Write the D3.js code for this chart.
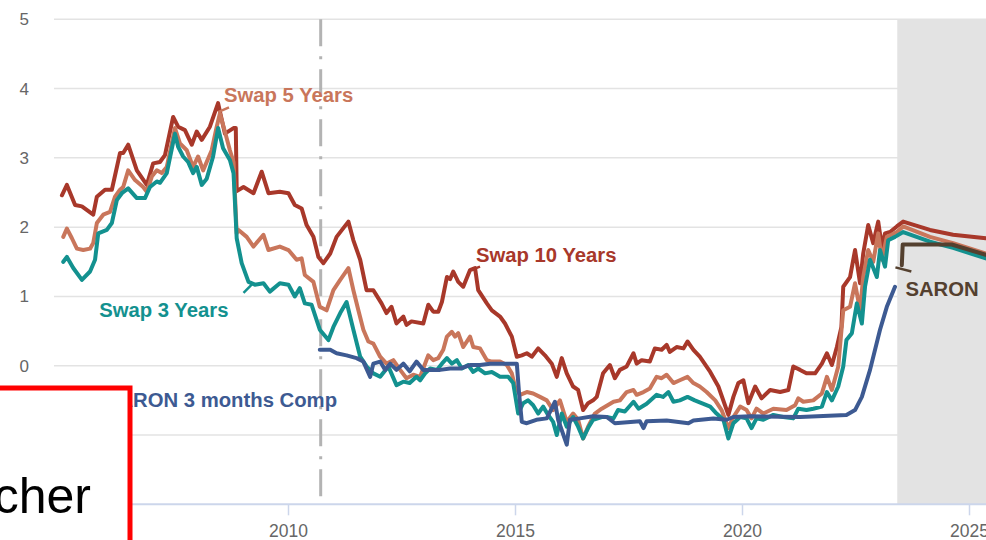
<!DOCTYPE html>
<html>
<head>
<meta charset="utf-8">
<style>
  body { margin: 0; background: #fff; }
  svg { display: block; font-family: "Liberation Sans", Arial, sans-serif; }
</style>
</head>
<body>
<script src="https://d3js.org/d3.v7.min.js"></script>
<script>
  // rates in percent, dates as decimal years
  const swap10 = [[2005.02,2.46],[2005.13,2.61],[2005.31,2.32],[2005.46,2.30],[2005.71,2.18],[2005.79,2.44],[2005.97,2.54],[2006.12,2.54],[2006.30,3.07],[2006.37,3.07],[2006.48,3.19],[2006.67,2.82],[2006.89,2.61],[2007.03,2.92],[2007.18,2.94],[2007.29,3.04],[2007.47,3.59],[2007.58,3.45],[2007.73,3.40],[2007.88,3.19],[2007.99,3.38],[2008.10,3.26],[2008.28,3.45],[2008.46,3.79],[2008.61,3.35],[2008.80,3.43],[2008.85,3.43],[2008.87,2.52],[2009.02,2.58],[2009.24,2.49],[2009.42,2.80],[2009.57,2.49],[2009.82,2.51],[2010.01,2.49],[2010.15,2.32],[2010.30,2.27],[2010.41,2.03],[2010.56,1.86],[2010.67,1.57],[2010.78,1.48],[2010.93,1.62],[2011.07,1.86],[2011.33,2.08],[2011.44,1.81],[2011.59,1.53],[2011.73,1.09],[2011.88,1.09],[2012.06,0.90],[2012.17,0.76],[2012.28,0.85],[2012.39,0.61],[2012.54,0.71],[2012.61,0.59],[2012.72,0.64],[2012.98,0.61],[2013.09,0.88],[2013.20,0.78],[2013.31,0.78],[2013.39,0.92],[2013.50,1.28],[2013.57,1.25],[2013.64,1.36],[2013.75,1.21],[2013.86,1.14],[2014.01,1.38],[2014.12,1.41],[2014.19,1.09],[2014.38,0.90],[2014.49,0.80],[2014.67,0.71],[2014.78,0.61],[2014.93,0.42],[2015.04,0.13],[2015.15,0.15],[2015.26,0.18],[2015.37,0.13],[2015.51,0.25],[2015.66,0.15],[2015.81,0.03],[2015.92,-0.16],[2016.03,0.11],[2016.14,-0.11],[2016.28,-0.30],[2016.39,-0.35],[2016.50,-0.64],[2016.61,-0.54],[2016.72,-0.50],[2016.80,-0.45],[2016.94,-0.11],[2017.09,0.01],[2017.20,-0.18],[2017.31,-0.06],[2017.46,-0.01],[2017.61,0.18],[2017.68,0.03],[2017.79,0.08],[2017.97,0.06],[2018.08,0.25],[2018.23,0.23],[2018.34,0.30],[2018.41,0.20],[2018.56,0.27],[2018.71,0.25],[2018.80,0.35],[2018.93,0.23],[2019.07,0.13],[2019.30,-0.09],[2019.48,-0.30],[2019.70,-0.71],[2019.81,-0.45],[2019.92,-0.25],[2020.03,-0.21],[2020.14,-0.54],[2020.29,-0.30],[2020.43,-0.47],[2020.62,-0.35],[2020.84,-0.38],[2021.02,-0.35],[2021.13,-0.01],[2021.28,-0.06],[2021.42,-0.11],[2021.61,-0.11],[2021.76,0.03],[2021.87,0.18],[2021.98,0.01],[2022.09,0.27],[2022.19,0.56],[2022.23,1.14],[2022.38,1.28],[2022.49,1.67],[2022.60,1.19],[2022.67,1.62],[2022.78,2.03],[2022.89,1.77],[2023.00,2.08],[2023.08,1.72],[2023.15,1.91],[2023.26,1.93],[2023.41,2.01],[2023.55,2.08],[2024.14,1.96],[2024.65,1.89],[2025.37,1.84]];

  const swap5 = [[2005.05,1.86],[2005.13,1.98],[2005.24,1.84],[2005.35,1.69],[2005.49,1.67],[2005.64,1.69],[2005.71,1.77],[2005.79,2.06],[2005.93,2.18],[2006.08,2.22],[2006.19,2.44],[2006.30,2.54],[2006.37,2.58],[2006.48,2.82],[2006.63,2.68],[2006.81,2.58],[2006.89,2.51],[2007.00,2.73],[2007.11,2.82],[2007.22,2.78],[2007.33,2.87],[2007.51,3.43],[2007.62,3.21],[2007.77,3.11],[2007.91,2.87],[2008.02,3.02],[2008.13,2.82],[2008.32,3.11],[2008.43,3.45],[2008.50,3.64],[2008.61,3.38],[2008.72,3.11],[2008.80,2.94],[2008.87,1.91],[2008.91,1.96],[2009.09,1.86],[2009.24,1.72],[2009.46,1.89],[2009.57,1.67],[2009.82,1.72],[2010.01,1.67],[2010.19,1.53],[2010.30,1.55],[2010.37,1.31],[2010.56,1.21],[2010.70,0.85],[2010.85,0.80],[2011.00,1.09],[2011.15,1.24],[2011.33,1.41],[2011.44,1.09],[2011.55,0.80],[2011.66,0.52],[2011.77,0.35],[2011.88,0.32],[2012.03,0.13],[2012.17,0.03],[2012.32,0.08],[2012.47,-0.06],[2012.61,-0.18],[2012.76,-0.13],[2012.91,-0.16],[2013.09,0.15],[2013.20,0.08],[2013.31,0.11],[2013.42,0.23],[2013.50,0.42],[2013.61,0.49],[2013.68,0.42],[2013.75,0.47],[2013.86,0.27],[2014.01,0.42],[2014.08,0.27],[2014.23,0.25],[2014.38,0.08],[2014.49,0.06],[2014.67,0.06],[2014.82,0.01],[2014.93,-0.11],[2015.00,-0.30],[2015.11,-0.42],[2015.26,-0.38],[2015.40,-0.40],[2015.55,-0.45],[2015.70,-0.50],[2015.84,-0.64],[2015.99,-0.50],[2016.14,-0.81],[2016.28,-0.69],[2016.39,-0.78],[2016.50,-1.05],[2016.61,-0.88],[2016.76,-0.69],[2016.91,-0.62],[2017.17,-0.52],[2017.31,-0.50],[2017.46,-0.38],[2017.61,-0.35],[2017.68,-0.42],[2017.83,-0.38],[2017.97,-0.33],[2018.12,-0.16],[2018.23,-0.18],[2018.34,-0.13],[2018.49,-0.25],[2018.63,-0.21],[2018.80,-0.16],[2018.93,-0.25],[2019.07,-0.30],[2019.22,-0.38],[2019.41,-0.50],[2019.55,-0.64],[2019.70,-0.90],[2019.81,-0.74],[2019.96,-0.59],[2020.10,-0.64],[2020.21,-0.76],[2020.32,-0.62],[2020.47,-0.69],[2020.69,-0.62],[2020.98,-0.64],[2021.17,-0.57],[2021.24,-0.47],[2021.35,-0.52],[2021.57,-0.50],[2021.76,-0.40],[2021.87,-0.16],[2021.98,-0.35],[2022.12,-0.01],[2022.23,0.80],[2022.38,0.85],[2022.49,1.19],[2022.60,0.80],[2022.67,1.28],[2022.78,1.67],[2022.89,1.50],[2023.00,1.91],[2023.08,1.53],[2023.19,1.86],[2023.29,1.89],[2023.41,1.93],[2023.55,2.01],[2024.14,1.86],[2024.65,1.77],[2025.37,1.62]];

  const swap3 = [[2005.05,1.50],[2005.13,1.57],[2005.27,1.41],[2005.46,1.24],[2005.64,1.36],[2005.75,1.53],[2005.82,1.91],[2006.01,1.96],[2006.12,2.06],[2006.23,2.39],[2006.34,2.49],[2006.48,2.56],[2006.67,2.42],[2006.85,2.42],[2006.96,2.58],[2007.11,2.66],[2007.18,2.64],[2007.33,2.78],[2007.51,3.35],[2007.58,3.16],[2007.69,3.02],[2007.80,2.94],[2007.91,2.78],[2007.99,2.87],[2008.10,2.61],[2008.21,2.70],[2008.35,3.02],[2008.46,3.43],[2008.57,3.14],[2008.72,2.97],[2008.80,2.78],[2008.87,1.84],[2008.98,1.48],[2009.13,1.21],[2009.27,1.17],[2009.46,1.19],[2009.60,1.07],[2009.82,1.19],[2010.01,1.17],[2010.15,1.00],[2010.26,1.12],[2010.37,0.90],[2010.52,0.88],[2010.70,0.52],[2010.89,0.37],[2011.00,0.56],[2011.15,0.76],[2011.29,0.92],[2011.44,0.52],[2011.59,0.13],[2011.73,-0.01],[2011.88,-0.11],[2012.03,-0.16],[2012.21,-0.01],[2012.39,-0.28],[2012.54,-0.23],[2012.68,-0.25],[2012.83,-0.16],[2012.91,-0.21],[2013.02,-0.11],[2013.13,-0.04],[2013.28,-0.06],[2013.39,0.03],[2013.50,0.11],[2013.61,0.03],[2013.72,0.08],[2013.83,-0.04],[2013.97,0.01],[2014.08,-0.09],[2014.19,-0.04],[2014.34,-0.11],[2014.49,-0.09],[2014.67,-0.16],[2014.85,-0.16],[2014.96,-0.25],[2015.07,-0.69],[2015.18,-0.54],[2015.29,-0.50],[2015.40,-0.57],[2015.51,-0.69],[2015.62,-0.59],[2015.73,-0.71],[2015.84,-0.81],[2015.92,-1.00],[2016.03,-0.69],[2016.14,-0.88],[2016.28,-0.74],[2016.39,-0.88],[2016.50,-1.05],[2016.61,-0.90],[2016.72,-0.78],[2016.91,-0.74],[2017.02,-0.74],[2017.17,-0.76],[2017.27,-0.64],[2017.42,-0.66],[2017.61,-0.52],[2017.72,-0.62],[2017.90,-0.55],[2018.12,-0.42],[2018.26,-0.45],[2018.38,-0.38],[2018.49,-0.52],[2018.63,-0.50],[2018.80,-0.45],[2018.96,-0.50],[2019.11,-0.54],[2019.30,-0.59],[2019.44,-0.69],[2019.59,-0.78],[2019.70,-1.05],[2019.81,-0.83],[2019.96,-0.74],[2020.10,-0.76],[2020.21,-0.90],[2020.32,-0.76],[2020.47,-0.78],[2020.69,-0.71],[2020.91,-0.74],[2021.13,-0.76],[2021.24,-0.62],[2021.42,-0.64],[2021.57,-0.62],[2021.76,-0.59],[2021.87,-0.38],[2021.98,-0.50],[2022.12,-0.30],[2022.23,-0.01],[2022.30,0.37],[2022.42,0.47],[2022.53,0.90],[2022.64,0.61],[2022.71,1.14],[2022.82,1.53],[2022.97,1.28],[2023.04,1.67],[2023.15,1.43],[2023.22,1.81],[2023.37,1.86],[2023.55,1.93],[2024.14,1.79],[2024.65,1.70],[2025.37,1.55]];

  const saronComp = [[2010.70,0.23],[2010.93,0.23],[2011.07,0.18],[2011.29,0.15],[2011.51,0.11],[2011.66,0.06],[2011.81,-0.16],[2011.88,0.03],[2012.03,0.06],[2012.14,-0.06],[2012.25,0.03],[2012.39,-0.06],[2012.54,0.03],[2012.68,-0.08],[2012.83,0.06],[2012.98,-0.06],[2013.13,-0.06],[2013.35,-0.06],[2013.57,-0.04],[2013.79,-0.04],[2014.01,0.01],[2014.23,0.01],[2014.45,0.03],[2014.67,0.03],[2015.04,0.03],[2015.09,-0.40],[2015.15,-0.81],[2015.26,-0.83],[2015.47,-0.78],[2015.70,-0.76],[2015.88,-0.52],[2015.95,-0.78],[2016.14,-1.14],[2016.21,-0.78],[2016.43,-0.76],[2016.72,-0.73],[2017.02,-0.74],[2017.20,-0.83],[2017.75,-0.80],[2017.83,-0.90],[2017.90,-0.80],[2018.34,-0.79],[2018.82,-0.83],[2018.93,-0.79],[2019.37,-0.76],[2019.66,-0.78],[2019.81,-0.74],[2020.18,-0.73],[2021.28,-0.74],[2022.30,-0.71],[2022.49,-0.64],[2022.64,-0.45],[2022.82,-0.06],[2023.04,0.52],[2023.19,0.85],[2023.37,1.14]];

  const saron = [[2023.52,1.45],[2023.54,1.75],[2024.62,1.75],[2025.37,1.60]];

  const yTicks = [-2, -1, 0, 1, 2, 3, 4, 5];
  const yLabels = [0, 1, 2, 3, 4, 5];
  const xTicks = [2010, 2015, 2020, 2025];
  const markerDate = 2010.72;   // dash-dot vertical line
  const forecastStart = 2023.42; // grey band

  const series = [
    {name: "Swap 10 Years", data: swap10, color: "#a8382a"},
    {name: "Swap 5 Years", data: swap5, color: "#c9765b"},
    {name: "Swap 3 Years", data: swap3, color: "#13918f"},
    {name: "SARON 3 months Comp", data: saronComp, color: "#3d5a92"},
    {name: "SARON", data: saron, color: "#54402f"}
  ];

  // label anchors [date, value] plus connector from/to
  const labels = [
    {text: "Swap 5 Years", at: [2008.59, 3.80], anchor: "start", color: "#c9765b", tick: [[2008.46, 3.66], [2008.70, 3.73]]},
    {text: "Swap 10 Years", at: [2014.14, 1.50], anchor: "start", color: "#a8382a", tick: [[2014.07, 1.39], [2014.23, 1.43]]},
    {text: "Swap 3 Years", at: [2005.84, 0.70], anchor: "start", color: "#13918f", tick: [[2009.02, 1.05], [2009.20, 1.17]]},
    {text: "SARON 3 months Comp", at: [2011.08, -0.59], anchor: "end", color: "#3d5a92", tick: null},
    {text: "SARON", at: [2023.60, 1.01], anchor: "start", color: "#54402f", tick: [[2023.38, 1.42], [2023.73, 1.36]]}
  ];

  const W = 986, H = 540;
  const svg = d3.select("body").append("svg").attr("width", W).attr("height", H);

  const x = d3.scaleLinear().domain([2010, 2025]).range([288, 969]);
  const y = d3.scaleLinear().domain([-2, 5]).range([504.3, 19.3]);

  // grid
  svg.append("g").selectAll("line").data(yTicks.filter(t => t > -2)).join("line")
    .attr("x1", 54).attr("x2", W)
    .attr("y1", d => y(d)).attr("y2", d => y(d))
    .attr("stroke", "#e3e3e3").attr("stroke-width", 1.5);

  // forecast band
  svg.append("rect")
    .attr("x", x(forecastStart)).attr("y", y(5))
    .attr("width", W - x(forecastStart)).attr("height", y(-2) - y(5))
    .attr("fill", "#e3e3e3");

  // dash-dot marker
  svg.append("line")
    .attr("x1", x(markerDate)).attr("x2", x(markerDate))
    .attr("y1", y(5)).attr("y2", y(-2))
    .attr("stroke", "#b3b3b3").attr("stroke-width", 3)
    .attr("stroke-dasharray", "27,10,3,10");

  // y labels
  svg.append("g").selectAll("text").data(yLabels).join("text")
    .attr("x", 29).attr("y", d => y(d) + 6)
    .attr("text-anchor", "end")
    .attr("font-size", 17).attr("fill", "#666")
    .text(d => d);

  // x axis
  const xAxis = svg.append("g").attr("transform", `translate(0,${y(-2)})`)
    .call(d3.axisBottom(x).tickValues(xTicks).tickFormat(d3.format("d")).tickSize(11).tickPadding(9));
  xAxis.select(".domain").attr("d", `M54,0H${W}`).attr("stroke", "#ccd6eb").attr("stroke-width", 2);
  xAxis.selectAll(".tick line").attr("stroke", "#ccd6eb").attr("stroke-width", 1.5);
  xAxis.selectAll(".tick text").attr("fill", "#666").attr("font-size", 17.5)
    .attr("font-family", "'Liberation Sans', Arial, sans-serif");

  // lines
  const line = d3.line().x(d => x(d[0])).y(d => y(d[1]));
  svg.append("g").selectAll("path").data(series).join("path")
    .attr("d", d => line(d.data))
    .attr("fill", "none")
    .attr("stroke", d => d.color)
    .attr("stroke-width", 4)
    .attr("stroke-linejoin", "round")
    .attr("stroke-linecap", "round");

  // label connectors and text
  svg.append("g").selectAll("path").data(labels.filter(l => l.tick)).join("path")
    .attr("d", d => line(d.tick))
    .attr("fill", "none").attr("stroke", d => d.color).attr("stroke-width", 2.5);

  svg.append("g").selectAll("text").data(labels).join("text")
    .attr("x", d => x(d.at[0])).attr("y", d => y(d.at[1]))
    .attr("text-anchor", d => d.anchor)
    .attr("font-size", 20.3).attr("font-weight", "bold")
    .attr("fill", d => d.color)
    .text(d => d.text);

  // overlay box in the lower-left corner
  svg.append("rect")
    .attr("x", -10).attr("y", 388).attr("width", 140).attr("height", 200)
    .attr("fill", "#fff").attr("stroke", "#ff0000").attr("stroke-width", 5);
  svg.append("text")
    .attr("x", 91).attr("y", 513)
    .attr("text-anchor", "end")
    .attr("font-size", 50).attr("fill", "#000")
    .text("cher");
</script>
</body>
</html>
